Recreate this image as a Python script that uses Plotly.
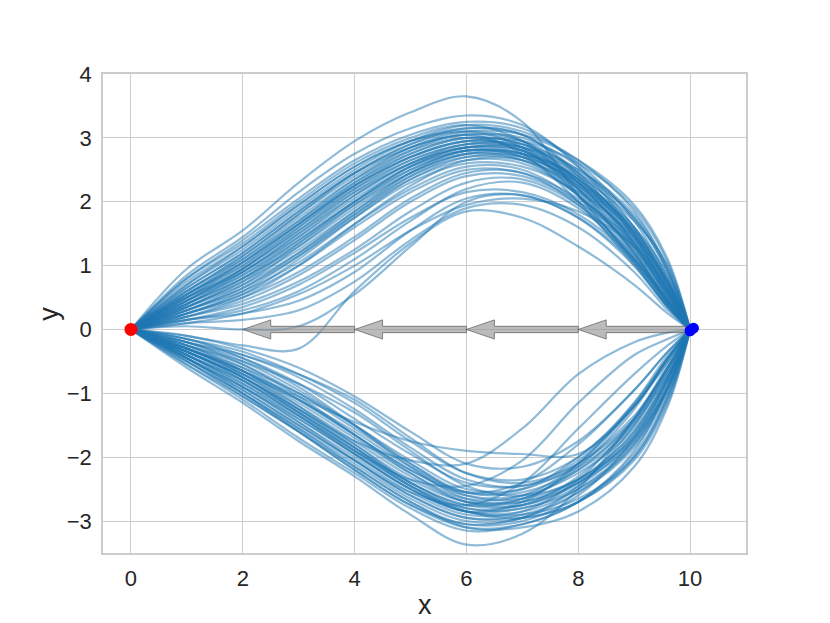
import plotly.graph_objects as go

# knot x positions shared by every trajectory
KNOT_X = [0, 1, 2, 3, 4, 5, 6, 7, 8, 9, 9.6, 10]

# trajectories passing above the axis (y at each knot)
UPPER = [
    [0, 0.95, 1.55, 2.30, 2.95, 3.40, 3.65, 3.25, 2.10, 1.10, 0.45, 0],
    [0, 0.85, 1.45, 2.15, 2.75, 3.15, 3.35, 3.20, 2.55, 1.50, 0.60, 0],
    [0, 0.80, 1.40, 2.05, 2.65, 3.05, 3.25, 3.15, 2.60, 1.70, 0.80, 0],
    [0, 0.75, 1.30, 1.95, 2.55, 2.95, 3.15, 3.05, 2.45, 1.45, 0.55, 0],
    [0, 0.70, 1.25, 1.90, 2.50, 2.95, 3.20, 3.10, 2.65, 1.85, 0.95, 0],
    [0, 0.65, 1.20, 1.85, 2.45, 2.90, 3.10, 2.95, 2.30, 1.30, 0.50, 0],
    [0, 0.60, 1.15, 1.80, 2.40, 2.85, 3.05, 3.00, 2.55, 1.60, 0.70, 0],
    [0, 0.60, 1.10, 1.70, 2.30, 2.75, 3.00, 2.90, 2.40, 1.50, 0.65, 0],
    [0, 0.55, 1.05, 1.65, 2.25, 2.70, 2.95, 2.85, 2.30, 1.35, 0.55, 0],
    [0, 0.55, 1.00, 1.60, 2.20, 2.65, 2.90, 2.90, 2.50, 1.75, 0.90, 0],
    [0, 0.50, 0.95, 1.55, 2.15, 2.60, 2.85, 2.75, 2.20, 1.30, 0.50, 0],
    [0, 0.50, 0.90, 1.50, 2.10, 2.60, 2.85, 2.80, 2.35, 1.55, 0.75, 0],
    [0, 0.45, 0.90, 1.45, 2.05, 2.55, 2.80, 2.70, 2.15, 1.20, 0.45, 0],
    [0, 0.45, 0.85, 1.40, 2.00, 2.50, 2.80, 2.75, 2.40, 1.70, 1.00, 0],
    [0, 0.40, 0.80, 1.35, 1.95, 2.45, 2.75, 2.65, 2.10, 1.25, 0.55, 0],
    [0, 0.40, 0.80, 1.30, 1.90, 2.45, 2.75, 2.70, 2.30, 1.50, 0.70, 0],
    [0, 0.35, 0.75, 1.25, 1.85, 2.40, 2.70, 2.65, 2.20, 1.40, 0.60, 0],
    [0, 0.35, 0.70, 1.20, 1.80, 2.35, 2.65, 2.60, 2.10, 1.20, 0.40, 0],
    [0, 0.30, 0.65, 1.15, 1.75, 2.30, 2.60, 2.55, 2.15, 1.45, 0.75, 0],
    [0, 0.30, 0.60, 1.05, 1.65, 2.20, 2.55, 2.50, 2.00, 1.10, 0.40, 0],
    [0, 0.25, 0.55, 1.00, 1.60, 2.15, 2.50, 2.45, 2.05, 1.35, 0.65, 0],
    [0, 0.25, 0.50, 0.90, 1.45, 2.05, 2.45, 2.45, 1.95, 1.05, 0.35, 0],
    [0, 0.20, 0.45, 0.85, 1.40, 2.00, 2.40, 2.40, 2.00, 1.30, 0.60, 0],
    [0, 0.20, 0.40, 0.75, 1.25, 1.85, 2.30, 2.35, 1.95, 1.15, 0.45, 0],
    [0, 0.15, 0.30, 0.60, 1.10, 1.70, 2.20, 2.30, 1.90, 1.10, 0.40, 0],
    [0, 0.15, 0.25, 0.45, 0.90, 1.55, 2.05, 2.10, 1.75, 1.00, 0.35, 0],
    [0, 0.10, 0.15, 0.30, 0.75, 1.40, 1.90, 1.95, 1.60, 0.90, 0.30, 0],
    [0, -0.10, -0.25, -0.30, 0.60, 1.35, 1.85, 1.75, 1.30, 0.70, 0.25, 0],
    [0, 0.05, 0.00, 0.05, 0.55, 1.30, 2.00, 2.10, 1.75, 1.05, 0.40, 0],
    [0, 0.80, 1.35, 2.00, 2.60, 3.00, 3.20, 2.95, 2.20, 1.20, 0.45, 0],
    [0, 0.70, 1.30, 1.95, 2.55, 2.95, 3.10, 2.85, 2.10, 1.05, 0.35, 0],
    [0, 0.65, 1.20, 1.85, 2.45, 2.85, 3.05, 2.95, 2.45, 1.60, 0.80, 0],
    [0, 0.55, 1.10, 1.75, 2.35, 2.80, 3.00, 2.80, 2.25, 1.40, 0.65, 0],
    [0, 0.50, 1.00, 1.65, 2.25, 2.70, 2.95, 2.95, 2.60, 1.90, 1.05, 0],
    [0, 0.45, 0.95, 1.55, 2.20, 2.70, 2.95, 2.85, 2.35, 1.55, 0.75, 0],
    [0, 0.40, 0.85, 1.45, 2.10, 2.60, 2.90, 2.85, 2.45, 1.75, 0.90, 0],
    [0, 0.35, 0.80, 1.40, 2.00, 2.55, 2.85, 2.80, 2.30, 1.45, 0.70, 0],
    [0, 0.30, 0.70, 1.30, 1.95, 2.50, 2.80, 2.75, 2.25, 1.35, 0.55, 0],
    [0, 0.25, 0.60, 1.15, 1.80, 2.40, 2.75, 2.75, 2.35, 1.60, 0.85, 0],
    [0, 0.20, 0.50, 1.00, 1.65, 2.25, 2.65, 2.65, 2.25, 1.50, 0.70, 0],
    [0, 0.60, 1.15, 1.80, 2.45, 2.90, 3.15, 3.05, 2.40, 1.35, 0.50, 0],
    [0, 0.50, 1.05, 1.70, 2.35, 2.85, 3.10, 3.05, 2.65, 1.95, 1.10, 0],
    [0, 0.45, 0.95, 1.60, 2.25, 2.75, 3.00, 2.90, 2.35, 1.45, 0.60, 0],
    [0, 0.40, 0.90, 1.50, 2.15, 2.65, 2.90, 2.80, 2.20, 1.25, 0.45, 0],
    [0, 0.35, 0.75, 1.35, 2.00, 2.55, 2.85, 2.85, 2.50, 1.80, 0.95, 0],
    [0, 0.30, 0.65, 1.20, 1.85, 2.45, 2.80, 2.70, 2.10, 1.15, 0.40, 0],
    [0, 0.25, 0.55, 1.10, 1.75, 2.35, 2.70, 2.70, 2.30, 1.55, 0.75, 0],
    [0, 0.15, 0.35, 0.70, 1.20, 1.75, 2.15, 2.15, 1.80, 1.10, 0.45, 0],
    [0, 0.10, 0.25, 0.55, 1.00, 1.55, 1.95, 2.05, 1.85, 1.30, 0.60, 0],
    [0, 0.55, 1.05, 1.65, 2.30, 2.80, 3.05, 2.75, 2.00, 1.00, 0.35, 0],
]

# trajectories passing below the axis (y at each knot)
LOWER = [
    [0, -0.60, -1.15, -1.75, -2.30, -2.90, -3.37, -3.20, -2.50, -1.40, -0.60, 0],
    [0, -0.55, -1.10, -1.70, -2.25, -2.80, -3.15, -3.05, -2.70, -1.90, -0.90, 0],
    [0, -0.50, -1.05, -1.60, -2.20, -2.75, -3.05, -3.00, -2.60, -1.70, -0.80, 0],
    [0, -0.50, -1.00, -1.55, -2.10, -2.65, -3.00, -2.95, -2.45, -1.50, -0.65, 0],
    [0, -0.45, -0.95, -1.50, -2.05, -2.60, -2.95, -2.95, -2.70, -2.00, -1.10, 0],
    [0, -0.45, -0.90, -1.45, -2.00, -2.55, -2.90, -2.85, -2.35, -1.40, -0.55, 0],
    [0, -0.40, -0.85, -1.40, -1.95, -2.50, -2.85, -2.80, -2.50, -1.80, -0.95, 0],
    [0, -0.40, -0.80, -1.35, -1.90, -2.45, -2.80, -2.75, -2.30, -1.45, -0.60, 0],
    [0, -0.35, -0.75, -1.30, -1.85, -2.40, -2.75, -2.75, -2.40, -1.65, -0.80, 0],
    [0, -0.35, -0.75, -1.25, -1.80, -2.35, -2.70, -2.65, -2.15, -1.25, -0.45, 0],
    [0, -0.30, -0.70, -1.20, -1.75, -2.30, -2.70, -2.70, -2.35, -1.60, -0.75, 0],
    [0, -0.30, -0.65, -1.15, -1.70, -2.25, -2.65, -2.60, -2.10, -1.20, -0.45, 0],
    [0, -0.25, -0.60, -1.10, -1.65, -2.20, -2.60, -2.60, -2.25, -1.55, -0.75, 0],
    [0, -0.25, -0.55, -1.00, -1.55, -2.10, -2.55, -2.55, -2.20, -1.50, -0.70, 0],
    [0, -0.20, -0.50, -0.95, -1.50, -2.05, -2.50, -2.50, -2.10, -1.35, -0.60, 0],
    [0, -0.20, -0.45, -0.85, -1.40, -1.95, -2.40, -2.45, -2.15, -1.45, -0.70, 0],
    [0, -0.15, -0.40, -0.75, -1.25, -1.85, -2.35, -2.45, -2.05, -1.20, -0.50, 0],
    [0, -0.15, -0.35, -0.70, -1.15, -1.75, -2.25, -2.35, -2.00, -1.15, -0.45, 0],
    [0, -0.10, -0.30, -0.60, -1.05, -1.60, -2.10, -2.15, -1.75, -0.95, -0.35, 0],
    [0, -0.30, -0.65, -1.05, -1.45, -1.75, -1.90, -1.95, -1.95, -1.20, -0.45, 0],
    [0, -0.35, -0.75, -1.25, -1.75, -2.05, -2.10, -1.55, -0.70, -0.20, -0.05, 0],
    [0, -0.40, -0.85, -1.35, -1.90, -2.35, -2.45, -2.05, -1.15, -0.40, -0.15, 0],
    [0, -0.45, -0.95, -1.50, -2.05, -2.55, -2.75, -2.40, -1.55, -0.70, -0.25, 0],
    [0, -0.55, -1.05, -1.60, -2.15, -2.70, -3.10, -3.10, -2.85, -2.15, -1.20, 0],
    [0, -0.50, -1.00, -1.55, -2.15, -2.70, -3.05, -2.95, -2.55, -1.80, -0.90, 0],
    [0, -0.35, -0.80, -1.35, -1.95, -2.50, -2.85, -2.90, -2.65, -2.00, -1.05, 0],
    [0, -0.30, -0.70, -1.25, -1.85, -2.45, -2.85, -2.85, -2.50, -1.75, -0.85, 0],
    [0, -0.25, -0.65, -1.20, -1.80, -2.40, -2.80, -2.80, -2.45, -1.70, -0.90, 0],
    [0, -0.20, -0.55, -1.05, -1.65, -2.25, -2.70, -2.75, -2.40, -1.65, -0.80, 0],
    [0, -0.15, -0.45, -0.90, -1.50, -2.15, -2.65, -2.70, -2.40, -1.75, -0.95, 0],
    [0, -0.40, -0.90, -1.45, -2.05, -2.60, -2.95, -2.90, -2.55, -1.85, -1.00, 0],
    [0, -0.45, -0.90, -1.40, -1.95, -2.50, -2.85, -2.70, -2.10, -1.15, -0.40, 0],
    [0, -0.30, -0.60, -1.00, -1.50, -2.10, -2.60, -2.65, -2.35, -1.70, -0.90, 0],
    [0, -0.25, -0.50, -0.85, -1.30, -1.90, -2.45, -2.60, -2.35, -1.60, -0.75, 0],
    [0, -0.20, -0.40, -0.70, -1.10, -1.70, -2.25, -2.40, -2.10, -1.40, -0.65, 0],
    [0, -0.35, -0.70, -1.10, -1.60, -2.15, -2.55, -2.50, -2.00, -1.20, -0.50, 0],
    [0, -0.40, -0.80, -1.30, -1.85, -2.40, -2.75, -2.65, -2.20, -1.40, -0.60, 0],
    [0, -0.30, -0.65, -1.10, -1.65, -2.20, -2.55, -2.40, -1.80, -0.95, -0.35, 0],
    [0, -0.45, -1.00, -1.60, -2.20, -2.75, -3.10, -3.05, -2.70, -1.95, -1.05, 0],
    [0, -0.35, -0.75, -1.30, -1.90, -2.45, -2.85, -2.95, -2.70, -2.05, -1.15, 0],
]

# arrows along y = 0 (start x -> end x)
ARROW_START = [10, 8, 6, 4]
ARROW_END = [8, 6, 4, 2]
ARROW_Y = 0

# start and end points
START_X, START_Y = [0], [0]
END_X, END_Y = [10.0, 10.06], [-0.02, 0.02]

X_TICKS = [0, 2, 4, 6, 8, 10]
Y_TICKS = [-3, -2, -1, 0, 1, 2, 3, 4]

FONT = "Liberation Sans, Arial, sans-serif"
TXT = "#262626"

fig = go.Figure()

line_style = dict(color="rgba(31,119,180,0.5)", width=2.2, shape="spline", smoothing=1.0)
for ys in UPPER + LOWER:
    fig.add_trace(go.Scatter(x=KNOT_X, y=ys, mode="lines", line=line_style,
                             hoverinfo="skip", showlegend=False))

shaft_w, head_w, head_l = 0.1, 0.3, 0.5
for x0, x1 in zip(ARROW_START, ARROW_END):
    d = -1 if x1 < x0 else 1
    hb = x1 - d * head_l
    px = [x0, hb, hb, x1, hb, hb, x0, x0]
    py = [ARROW_Y + shaft_w / 2, ARROW_Y + shaft_w / 2, ARROW_Y + head_w / 2, ARROW_Y,
          ARROW_Y - head_w / 2, ARROW_Y - shaft_w / 2, ARROW_Y - shaft_w / 2, ARROW_Y + shaft_w / 2]
    fig.add_trace(go.Scatter(x=px, y=py, mode="lines", fill="toself",
                             fillcolor="rgba(150,150,150,0.65)",
                             line=dict(color="rgba(90,90,90,0.7)", width=1),
                             hoverinfo="skip", showlegend=False))

fig.add_trace(go.Scatter(x=START_X, y=START_Y, mode="markers",
                         marker=dict(color="red", size=13), showlegend=False))
fig.add_trace(go.Scatter(x=END_X, y=END_Y, mode="markers",
                         marker=dict(color="blue", size=11), showlegend=False))

axis_common = dict(showgrid=True, gridcolor="#cccccc", gridwidth=1, zeroline=False,
                   showline=True, linecolor="#cccccc", linewidth=1.5, mirror=True,
                   ticks="outside", ticklen=5, tickcolor="rgba(0,0,0,0)",
                   automargin=False,
                   tickfont=dict(family=FONT, size=22, color=TXT))

fig.update_layout(
    width=830, height=623,
    margin=dict(l=95, r=92, t=66, b=78),
    paper_bgcolor="white", plot_bgcolor="white",
    xaxis=dict(range=[-0.5, 11], tickvals=X_TICKS, **axis_common),
    yaxis=dict(range=[-3.5, 4], tickvals=Y_TICKS, **axis_common),
    annotations=[
        dict(text="x", xref="paper", yref="paper", x=0.5, y=-0.108, xanchor="center",
             yanchor="middle", showarrow=False, font=dict(family=FONT, size=27, color=TXT)),
        dict(text="y", xref="paper", yref="paper", x=-0.085, y=0.5, xanchor="center",
             yanchor="middle", textangle=-90, showarrow=False,
             font=dict(family=FONT, size=27, color=TXT)),
    ],
)

fig.write_html("out.html")
